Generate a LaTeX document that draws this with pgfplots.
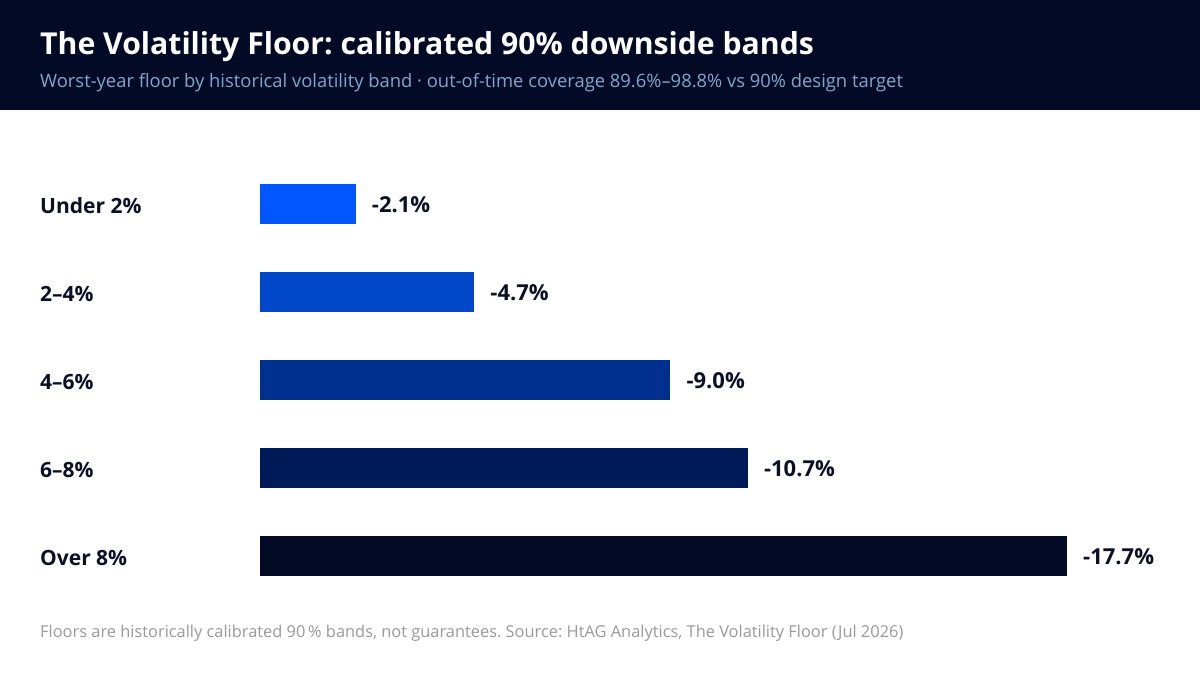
\documentclass[border=0pt]{standalone}
\usepackage{pgfplots}
\pgfplotsset{compat=1.18}
\usepackage{fontspec}
\setmainfont{Open Sans}
\frenchspacing
\definecolor{hdr}{HTML}{020A26}
\definecolor{subc}{HTML}{7FA8CC}
\definecolor{ink}{HTML}{0B1026}
\definecolor{foot}{HTML}{9A9A9A}
\definecolor{c1}{HTML}{0057FF}
\definecolor{c2}{HTML}{0047C9}
\definecolor{c3}{HTML}{00308F}
\definecolor{c4}{HTML}{001A57}
\definecolor{c5}{HTML}{020A26}
\begin{document}
\begin{tikzpicture}[x=1pt,y=1pt]
% canvas and header band
\fill[white] (0,0) rectangle (1200,675);
\fill[hdr] (0,565) rectangle (1200,675);
\node[anchor=base west, inner sep=0pt, text=white, font=\fontsize{30.2}{34}\selectfont\bfseries] at (40,620) {The Volatility Floor: calibrated 90\% downside bands};
\node[anchor=base west, inner sep=0pt, text=subc, font=\fontsize{18.4}{22}\selectfont] at (40,587) {Worst-year floor by historical volatility band · out-of-time coverage 89.6\%–98.8\% vs 90\% design target};
\node[anchor=base west, inner sep=0pt, text=foot, font=\fontsize{16.4}{20}\selectfont] at (40,37) {Floors are historically calibrated 90\,\% bands, not guarantees. Source: HtAG Analytics, The Volatility Floor (Jul 2026)};
\begin{axis}[
  at={(260pt,75pt)}, anchor=south west,
  scale only axis, width=880pt, height=440pt,
  xbar, bar width=40pt, bar shift=0pt,
  x dir=reverse, xmin=-19.3, xmax=0,
  y dir=reverse, ymin=-0.5, ymax=4.5,
  ytick={0,1,2,3,4},
  yticklabels={Under 2\%, 2–4\%, 4–6\%, 6–8\%, Over 8\%},
  yticklabel style={anchor=west, inner sep=0pt, xshift=-220pt, yshift=-2pt, text=ink, font=\fontsize{21}{25}\selectfont\bfseries},
  xtick=\empty,
  major tick length=0pt,
  axis line style={draw=none},
  /pgf/number format/assume math mode=true,
  nodes near coords={\pgfmathprintnumber[fixed,fixed zerofill,precision=1]{\pgfplotspointmeta}\%},
  point meta=x,
  every node near coord/.append style={anchor=west, inner sep=0pt, xshift=16pt, yshift=-1pt, text=ink, font=\fontsize{22}{26}\selectfont\bfseries},
  clip=false,
]
\addplot[fill=c1, draw=none] coordinates {(-2.1,0)};
\addplot[fill=c2, draw=none] coordinates {(-4.7,1)};
\addplot[fill=c3, draw=none] coordinates {(-9.0,2)};
\addplot[fill=c4, draw=none] coordinates {(-10.7,3)};
\addplot[fill=c5, draw=none] coordinates {(-17.7,4)};
\end{axis}
\end{tikzpicture}
\end{document}
